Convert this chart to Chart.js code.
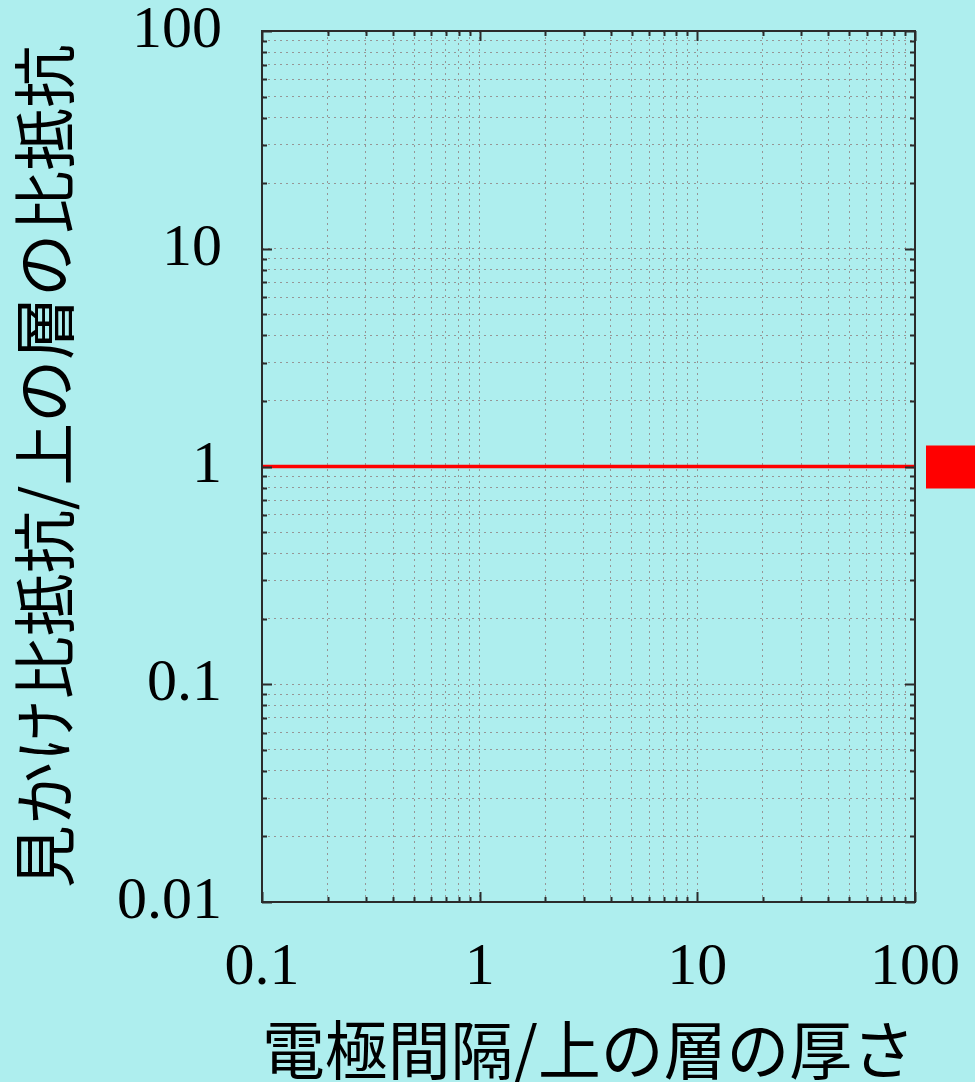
<!DOCTYPE html>
<html>
<head>
<meta charset="utf-8">
<script src="https://cdn.jsdelivr.net/npm/chart.js@4"></script>
<style>
html,body{margin:0;padding:0;background:#aeeeee;}
#wrap{width:975px;height:1082px;position:relative;}
</style>
</head>
<body>
<div id="wrap"><canvas id="chart"></canvas></div>
<script>
// data
const xValues = [0.1, 100];
const yValues = [1, 1];
const xTickLabels = ['0.1', '1', '10', '100'];
const yTickLabels = ['0.01', '0.1', '1', '10', '100'];
const mantissas = [1, 2, 3, 4, 5, 6, 7, 8, 9];
const xTitle = '電極間隔/上の層の厚さ';
const yTitle = '見かけ比抵抗/上の層の比抵抗';

const BG = '#aeeeee';
const RED = '#ff0000';

function logTicks(labels) {
  const out = [];
  for (let i = 0; i < labels.length - 1; i++) {
    const base = +labels[i];
    mantissas.forEach(m => out.push({value: m * base, major: m === 1}));
  }
  out.push({value: +labels[labels.length - 1], major: true});
  return out;
}
function labelFor(labels) {
  return v => {
    const l = labels.find(s => Math.abs(+s / v - 1) < 1e-6);
    return l === undefined ? '' : l;
  };
}
function noPad(s) {
  s.paddingTop = 0; s.paddingBottom = 0; s.paddingLeft = 0; s.paddingRight = 0;
}

const frame = {
  id: 'frame',
  beforeDraw(c) {
    const ctx = c.ctx;
    ctx.save();
    ctx.fillStyle = BG;
    ctx.fillRect(0, 0, c.width, c.height);
    ctx.restore();
  },
  afterDraw(c) {
    const ctx = c.ctx;
    const {left, right, top, bottom} = c.chartArea;
    ctx.save();
    ctx.strokeStyle = '#2b2b2b';
    ctx.lineWidth = 2;
    ctx.beginPath();
    c.scales.x.ticks.forEach(t => {
      const p = Math.round(c.scales.x.getPixelForValue(t.value)) + 0.5;
      const len = t.major ? 10 : 5;
      ctx.moveTo(p, bottom); ctx.lineTo(p, bottom - len);
      ctx.moveTo(p, top); ctx.lineTo(p, top + len);
    });
    c.scales.y.ticks.forEach(t => {
      const p = Math.round(c.scales.y.getPixelForValue(t.value)) + 0.5;
      const len = t.major ? 10 : 5;
      ctx.moveTo(left, p); ctx.lineTo(left + len, p);
      ctx.moveTo(right, p); ctx.lineTo(right - len, p);
    });
    ctx.stroke();
    ctx.strokeRect(left, top, right - left, bottom - top);
    // legend key
    const yp = c.scales.y.getPixelForValue(yValues[yValues.length - 1]);
    ctx.fillStyle = RED;
    ctx.fillRect(right + 11, yp - 21, 60, 43);
    ctx.restore();
  }
};

new Chart(document.getElementById('chart'), {
  type: 'line',
  data: {
    datasets: [{
      data: xValues.map((x, i) => ({x: x, y: yValues[i]})),
      borderColor: RED,
      borderWidth: 3.5,
      pointRadius: 0,
      fill: false
    }]
  },
  options: {
    responsive: true,
    maintainAspectRatio: false,
    animation: false,
    layout: {padding: {left: 0, top: 31, right: 60, bottom: 0}},
    plugins: {legend: {display: false}, tooltip: {enabled: false}},
    scales: {
      x: {
        type: 'logarithmic',
        min: +xTickLabels[0],
        max: +xTickLabels[xTickLabels.length - 1],
        afterBuildTicks: s => { s.ticks = logTicks(xTickLabels); },
        afterFit: s => { s.height = 180; noPad(s); },
        grid: {color: '#969696', lineWidth: 1, drawTicks: false},
        border: {display: false, dash: [2, 4]},
        ticks: {
          autoSkip: false, maxRotation: 0, padding: 36, color: '#000',
          font: {family: '"Liberation Serif", "DejaVu Serif", serif', size: 60, lineHeight: 1},
          callback: labelFor(xTickLabels)
        },
        title: {
          display: true, text: xTitle, color: '#000',
          font: {family: '"Noto Sans CJK JP", sans-serif', size: 64, lineHeight: 1},
          padding: {top: 0, bottom: 0}
        }
      },
      y: {
        type: 'logarithmic',
        min: +yTickLabels[0],
        max: +yTickLabels[yTickLabels.length - 1],
        afterBuildTicks: s => { s.ticks = logTicks(yTickLabels); },
        afterFit: s => { s.width = 262; noPad(s); },
        grid: {color: '#969696', lineWidth: 1, drawTicks: false},
        border: {display: false, dash: [2, 4]},
        ticks: {
          autoSkip: false, padding: 40, color: '#000',
          font: {family: '"Liberation Serif", "DejaVu Serif", serif', size: 60, lineHeight: 1},
          callback: labelFor(yTickLabels)
        },
        title: {
          display: true, text: yTitle, color: '#000',
          font: {family: '"Noto Sans CJK JP", sans-serif', size: 63, lineHeight: 1},
          padding: {top: 13, bottom: 0}
        }
      }
    }
  },
  plugins: [frame]
});
</script>
</body>
</html>
